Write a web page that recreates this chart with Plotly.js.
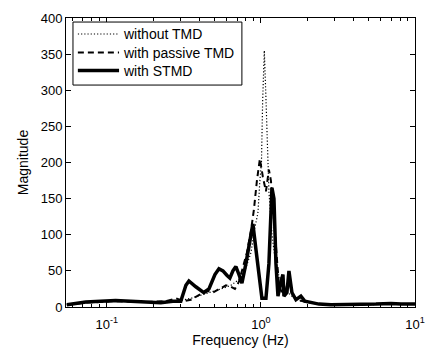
<!DOCTYPE html>
<html>
<head>
<meta charset="utf-8">
<script src="https://cdn.plot.ly/plotly-3.0.1.min.js"></script>
<style>html,body{margin:0;padding:0;background:#fff;}#chart{width:427px;height:354px;}</style>
</head>
<body>
<div id="chart"></div>
<script>
// Frequency (Hz) and magnitude
var freqNoTMD = [0.055, 0.073, 0.114, 0.179, 0.242, 0.302, 0.351, 0.408, 0.474, 0.550, 0.639, 0.720, 0.787, 0.861, 0.914, 0.956, 0.985, 1.008, 1.026, 1.052, 1.080, 1.098, 1.111, 1.127, 1.144, 1.180, 1.230, 1.300, 1.369, 1.454, 1.613, 1.818, 2.112, 2.453, 2.848, 3.565, 4.461, 5.582, 6.987, 8.111, 10.0];
var magNoTMD  = [3, 6, 8, 7, 8, 9, 12, 16, 20, 25, 30, 38, 50, 75, 110, 130, 175, 200, 284, 355, 284, 230, 190, 160, 140, 100, 70, 45, 35, 22, 14, 8, 6, 4, 3, 3, 3, 4, 4, 4, 4];

var freqPassive = [0.055, 0.073, 0.114, 0.179, 0.242, 0.281, 0.316, 0.351, 0.408, 0.453, 0.488, 0.534, 0.593, 0.639, 0.678, 0.720, 0.764, 0.811, 0.861, 0.901, 0.942, 0.985, 1.030, 1.078, 1.127, 1.161, 1.197, 1.233, 1.270, 1.309, 1.369, 1.454, 1.520, 1.589, 1.713, 1.960, 2.453, 2.848, 3.565, 4.461, 5.582, 6.987, 8.111, 10.0];
var magPassive  = [3, 6, 8, 7, 8, 12, 8, 10, 18, 22, 20, 25, 30, 28, 25, 35, 55, 75, 105, 135, 175, 205, 180, 160, 190, 175, 140, 100, 60, 30, 20, 25, 40, 18, 10, 7, 4, 3, 3, 3, 4, 5, 4, 4];

var freqSTMD = [0.055, 0.063, 0.073, 0.091, 0.114, 0.143, 0.179, 0.224, 0.268, 0.302, 0.326, 0.341, 0.378, 0.426, 0.460, 0.503, 0.534, 0.567, 0.601, 0.629, 0.658, 0.688, 0.720, 0.753, 0.799, 0.848, 0.887, 0.928, 0.971, 1.015, 1.078, 1.127, 1.179, 1.215, 1.252, 1.290, 1.349, 1.390, 1.411, 1.475, 1.520, 1.589, 1.688, 1.818, 1.931, 2.112, 2.381, 2.848, 3.565, 4.461, 5.582, 6.987, 8.111, 10.0];
var magSTMD  = [3, 5, 7, 8, 9, 8, 7, 6, 8, 8, 30, 36, 28, 20, 25, 45, 53, 50, 44, 40, 50, 56, 45, 33, 60, 95, 115, 80, 40, 12, 12, 60, 165, 150, 60, 15, 35, 45, 15, 20, 50, 20, 10, 15, 8, 6, 4, 3, 3, 3, 4, 5, 4, 4];

var seriesNames = ['without TMD', 'with passive TMD', 'with STMD'];
var xTickVals = [0.1, 1, 10];
var xTickText = ['10<sup>-1</sup>', '10<sup>0</sup>', '10<sup>1</sup>'];
var xMinorVals = [0.06, 0.07, 0.08, 0.09, 0.2, 0.3, 0.4, 0.5, 0.6, 0.7, 0.8, 0.9, 2, 3, 4, 5, 6, 7, 8, 9];
var yTickVals = [0, 50, 100, 150, 200, 250, 300, 350, 400];

var font = '"Liberation Sans", Arial, Helvetica, sans-serif';
var lineStyles = [
  {color: '#000', width: 1.2, dash: '1.2px,2px'},
  {color: '#000', width: 2, dash: '6px,4px'},
  {color: '#000', width: 3.5}
];

var traces = [
  {x: freqNoTMD, y: magNoTMD, name: seriesNames[0], type: 'scatter', mode: 'lines', line: lineStyles[0]},
  {x: freqPassive, y: magPassive, name: seriesNames[1], type: 'scatter', mode: 'lines', line: lineStyles[1]},
  {x: freqSTMD, y: magSTMD, name: seriesNames[2], type: 'scatter', mode: 'lines', line: lineStyles[2]}
];

// Legend box drawn in paper coordinates (compact MATLAB-style legend)
var legBox = {x0: 0.020, x1: 0.504, y0: 0.768, y1: 0.986};
var legRows = [0.9446, 0.8806, 0.8183];
var legLineX = [0.034, 0.152];
var legTextX = 0.158;

var shapes = [{type: 'rect', xref: 'paper', yref: 'paper', x0: legBox.x0, x1: legBox.x1, y0: legBox.y0, y1: legBox.y1,
               line: {color: '#000', width: 1}, fillcolor: '#fff', layer: 'above'}];
var annotations = [];
seriesNames.forEach(function (nm, i) {
  shapes.push({type: 'line', xref: 'paper', yref: 'paper', x0: legLineX[0], x1: legLineX[1], y0: legRows[i], y1: legRows[i],
               line: lineStyles[i], layer: 'above'});
  annotations.push({xref: 'paper', yref: 'paper', x: legTextX, y: legRows[i], xanchor: 'left', yanchor: 'middle',
                    text: nm, showarrow: false, font: {family: font, size: 14, color: '#000'}});
});

var layout = {
  width: 427, height: 354,
  margin: {l: 66, r: 12, t: 18, b: 47},
  paper_bgcolor: '#fff', plot_bgcolor: '#fff',
  font: {family: font, size: 13, color: '#000'},
  showlegend: false,
  shapes: shapes,
  annotations: annotations,
  xaxis: {type: 'log', range: [-1.265, 1], showgrid: false, zeroline: false,
          showline: true, linecolor: '#000', linewidth: 1, mirror: 'ticks',
          ticks: 'inside', ticklen: 5, tickcolor: '#000',
          tickmode: 'array', tickvals: xTickVals, ticktext: xTickText,
          minor: {tickmode: 'array', tickvals: xMinorVals, ticks: 'inside', ticklen: 3, tickcolor: '#000', showgrid: false},
          tickfont: {family: font, size: 13}, ticklabelstandoff: 5,
          title: {text: 'Frequency (Hz)', font: {family: font, size: 14}, standoff: 2}},
  yaxis: {range: [0, 400], showgrid: false, zeroline: false,
          showline: true, linecolor: '#000', linewidth: 1, mirror: 'ticks',
          ticks: 'inside', ticklen: 5, tickcolor: '#000',
          tickmode: 'array', tickvals: yTickVals,
          tickfont: {family: font, size: 13},
          title: {text: 'Magnitude', font: {family: font, size: 14}, standoff: 8}}
};

Plotly.newPlot('chart', traces, layout, {displayModeBar: false, staticPlot: true});
</script>
</body>
</html>
